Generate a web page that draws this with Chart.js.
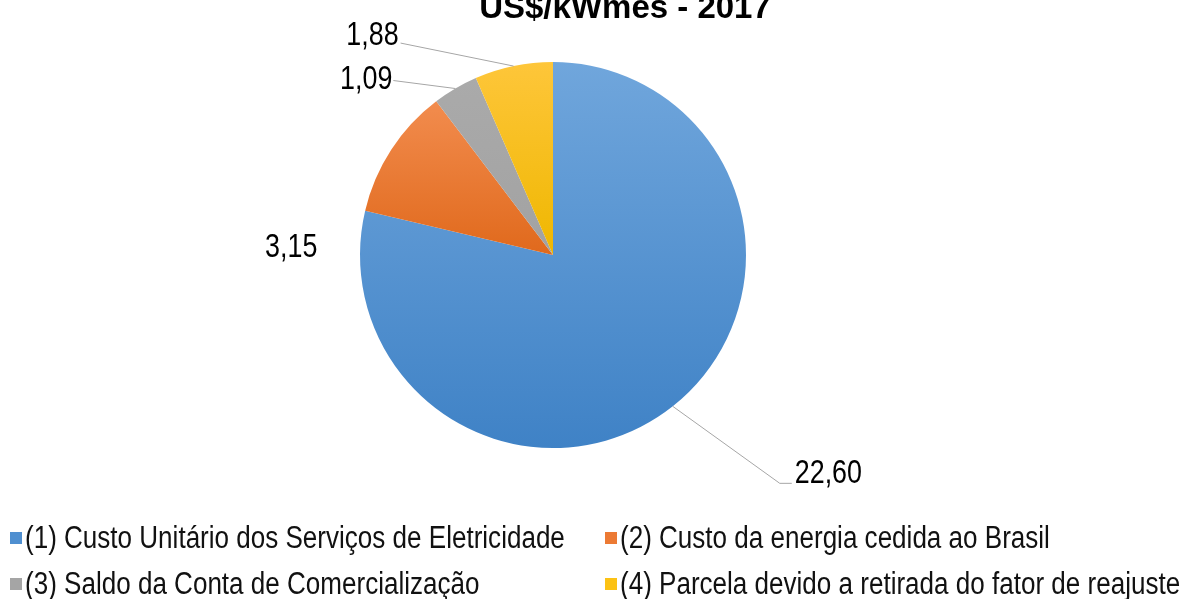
<!DOCTYPE html>
<html>
<head>
<meta charset="utf-8">
<script src="https://cdn.jsdelivr.net/npm/chart.js@4.4.1/dist/chart.umd.min.js"></script>
<style>
  body { margin: 0; background: #fff; }
  #wrap { position: relative; width: 1181px; height: 599px; overflow: hidden; }
  #title {
    position: absolute; left: 0; width: 1250px; top: -12px; text-align: center;
    font: bold 33px "Liberation Sans", Arial, sans-serif; color: #000;
  }
  #legend {
    position: absolute; left: 10px; top: 521px;
    display: grid; grid-template-columns: 595px 580px; row-gap: 12px;
    font: 31px "Liberation Sans", Arial, sans-serif; color: #111;
  }
  .item { display: flex; align-items: center; white-space: nowrap; height: 34px; }
  .box { width: 12px; height: 12px; margin-right: 3px; flex: none; }
  .txt { display: inline-block; transform: scaleX(0.84); transform-origin: left center; }
</style>
</head>
<body>
<div id="wrap">
  <canvas id="myChart" width="1181" height="599"></canvas>
  <div id="title">US$/kWmês - 2017</div>
  <div id="legend"></div>
</div>
<script>
const labels = [
  "(1) Custo Unitário dos Serviços de Eletricidade",
  "(2) Custo da energia cedida ao Brasil",
  "(3) Saldo da Conta de Comercialização",
  "(4) Parcela devido a retirada do fator de reajuste",
];
const values = [22.60, 3.15, 1.09, 1.88];
const valueText = ["22,60", "3,15", "1,09", "1,88"];
const lightColors = ["#70a6dc", "#f28c4e", "#aaaaaa", "#fec63a"];
const darkColors = ["#3f82c6", "#e0691c", "#a2a2a2", "#efb700"];
const legendColors = ["#4f8fd0", "#ec7a34", "#a5a5a5", "#fcc214"];

// label placement relative to the slice's edge point (dx, dy = leader end)
const labelStyle = [
  { dx: 107, dy: 77, line: true, align: "left", tx: 15, ty: 0 },
  { dx: -100, dy: 107, line: false, align: "center", tx: 0, ty: 0 },
  { dx: -62, dy: -8, line: true, align: "right", tx: -1, ty: 8 },
  { dx: -113, dy: -23, line: true, align: "right", tx: -2, ty: 2 },
];

// legend
const legendDiv = document.getElementById("legend");
labels.forEach((l, i) => {
  const item = document.createElement("div");
  item.className = "item";
  item.innerHTML = `<span class="box" style="background:${legendColors[i]}"></span><span class="txt">${l}</span>`;
  legendDiv.appendChild(item);
});

const sliceGradient = {
  id: "sliceGradient",
  beforeDatasetsDraw(chart) {
    const ctx = chart.ctx;
    chart.getDatasetMeta(0).data.forEach((arc, i) => {
      const { x, y, startAngle, endAngle, outerRadius } = arc.getProps(["x", "y", "startAngle", "endAngle", "outerRadius"], true);
      let ys = [y];
      for (let a = startAngle; a <= endAngle; a += 0.02) ys.push(y + outerRadius * Math.sin(a));
      ys.push(y + outerRadius * Math.sin(endAngle));
      const g = ctx.createLinearGradient(0, Math.min(...ys), 0, Math.max(...ys));
      g.addColorStop(0, lightColors[i]);
      g.addColorStop(1, darkColors[i]);
      arc.options.backgroundColor = g;
    });
  },
};

const valueLabels = {
  id: "valueLabels",
  afterDatasetsDraw(chart) {
    const ctx = chart.ctx;
    ctx.save();
    ctx.font = '34px "Liberation Sans", Arial, sans-serif';
    ctx.fillStyle = "#000";
    ctx.strokeStyle = "#a6a6a6";
    ctx.lineWidth = 1;
    chart.getDatasetMeta(0).data.forEach((arc, i) => {
      const { x, y, startAngle, endAngle, outerRadius } = arc.getProps(["x", "y", "startAngle", "endAngle", "outerRadius"], true);
      const mid = (startAngle + endAngle) / 2;
      const ex = x + outerRadius * Math.cos(mid);
      const ey = y + outerRadius * Math.sin(mid);
      const s = labelStyle[i];
      const lx = ex + s.dx, ly = ey + s.dy;
      if (s.line) {
        ctx.beginPath();
        ctx.moveTo(ex, ey);
        ctx.lineTo(lx, ly);
        if (s.align === "left") ctx.lineTo(lx + 12, ly);
        ctx.stroke();
      }
      ctx.save();
      ctx.translate(lx + s.tx, ly + s.ty);
      ctx.scale(0.79, 1);
      ctx.textAlign = s.align;
      ctx.textBaseline = "alphabetic";
      ctx.fillText(valueText[i], 0, 0);
      ctx.restore();
    });
    ctx.restore();
  },
};

const ctx = document.getElementById("myChart").getContext("2d");
new Chart(ctx, {
  type: "pie",
  data: {
    labels: labels,
    datasets: [{ data: values, backgroundColor: legendColors, borderWidth: 0 }],
  },
  options: {
    responsive: false,
    animation: false,
    layout: { padding: { left: 360, right: 435, top: 62, bottom: 151 } },
    plugins: { legend: { display: false }, tooltip: { enabled: false } },
  },
  plugins: [sliceGradient, valueLabels],
});
</script>
</body>
</html>
